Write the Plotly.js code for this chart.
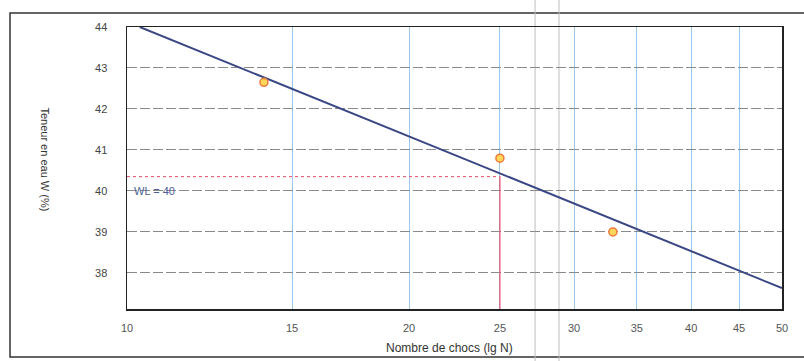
<!DOCTYPE html>
<html>
<head>
<meta charset="utf-8">
<script src="https://cdn.plot.ly/plotly-3.0.1.min.js"></script>
<style>
  html, body { margin: 0; padding: 0; background: #ffffff; }
  #chart { width: 804px; height: 361px; }
</style>
</head>
<body>
<div id="chart"></div>
<script>
// Data
const nChocs = [14, 25, 33];           // Nombre de chocs N
const teneurW = [42.65, 40.8, 39.0];   // Teneur en eau W (%)
const fitN = [10.32, 50];              // fitted line end points (N)
const fitW = [44.0, 37.63];            // fitted line end points (W)
const wlN = 25;                        // N at limit of liquidity
const wlW = 40.35;                     // W read at N = 25
const xTicks = [10, 15, 20, 25, 30, 35, 40, 45, 50];
const yTicks = [38, 39, 40, 41, 42, 43, 44];
const wlLabel = "WL = 40";
const yTitle = "Teneur en eau W (%)";

const font = "Liberation Sans, Arial, sans-serif";

const traces = [
  {
    x: [10, wlN], y: [wlW, wlW],
    mode: "lines", type: "scatter", hoverinfo: "skip",
    line: { color: "#e8506e", width: 1, dash: "dot" }, showlegend: false
  },
  {
    x: [wlN, wlN], y: [wlW, 37.12],
    mode: "lines", type: "scatter", hoverinfo: "skip",
    line: { color: "#e8506e", width: 1.2 }, showlegend: false
  },
  {
    x: fitN, y: fitW, mode: "lines", type: "scatter",
    line: { color: "#3a4785", width: 2 }, showlegend: false
  },
  {
    x: nChocs, y: teneurW, mode: "markers", type: "scatter",
    marker: { symbol: "circle", size: 8, color: "#ffd65a",
              line: { color: "#f07a3c", width: 1.5 } },
    showlegend: false
  }
];

const layout = {
  width: 804, height: 361,
  margin: { l: 127, r: 22, t: 27, b: 52 },
  paper_bgcolor: "#ffffff", plot_bgcolor: "#ffffff",
  font: { family: font, size: 11, color: "#444" },
  xaxis: {
    type: "log", range: [1, Math.log10(50)],
    tickvals: xTicks, ticktext: xTicks.map(String),
    showgrid: true, gridcolor: "#9cc6ea", gridwidth: 1,
    showline: true, linecolor: "#222", linewidth: 1.5, mirror: true,
    ticks: "", ticklabelstandoff: 8, zeroline: false,
    tickfont: { family: font, size: 11, color: "#555" }
  },
  yaxis: {
    range: [37.12, 44], tickvals: yTicks,
    showgrid: true, gridcolor: "#8a8a8a", gridwidth: 1, griddash: "10px,3px",
    showline: true, linecolor: "#222", linewidth: 1.5, mirror: true,
    ticks: "", ticklabelstandoff: 16, zeroline: false,
    tickfont: { family: font, size: 11, color: "#444" }
  },
  annotations: [
    { text: yTitle, xref: "paper", yref: "paper",
      x: -0.125, y: 0.53, textangle: 90, showarrow: false,
      xanchor: "center", yanchor: "middle",
      font: { family: font, size: 11, color: "#333" } },
    { text: "Nombre de chocs (lg N)", xref: "paper", yref: "paper",
      x: 0.493, y: -0.138, showarrow: false,
      xanchor: "center", yanchor: "middle",
      font: { family: font, size: 12, color: "#333" } },
    { text: wlLabel, xref: "paper", yref: "y",
      x: 0.008, y: 40.0, showarrow: false,
      xanchor: "left", yanchor: "middle",
      font: { family: font, size: 11, color: "#4f5f96" } }
  ],
  shapes: [
    { type: "rect", xref: "paper", yref: "paper",
      x0: -0.1786, x1: 1.04, y0: -0.17, y1: 1.05,
      line: { color: "#333", width: 1.5 }, layer: "below" },
    { type: "line", xref: "paper", yref: "paper",
      x0: 0.623, x1: 0.623, y0: -0.19, y1: 1.1,
      line: { color: "#bdbdbd", width: 1 }, layer: "below" },
    { type: "line", xref: "paper", yref: "paper",
      x0: 0.6595, x1: 0.6595, y0: -0.19, y1: 1.1,
      line: { color: "#bdbdbd", width: 1 }, layer: "below" }
  ]
};

Plotly.newPlot("chart", traces, layout, { displayModeBar: false, staticPlot: true });
</script>
</body>
</html>
